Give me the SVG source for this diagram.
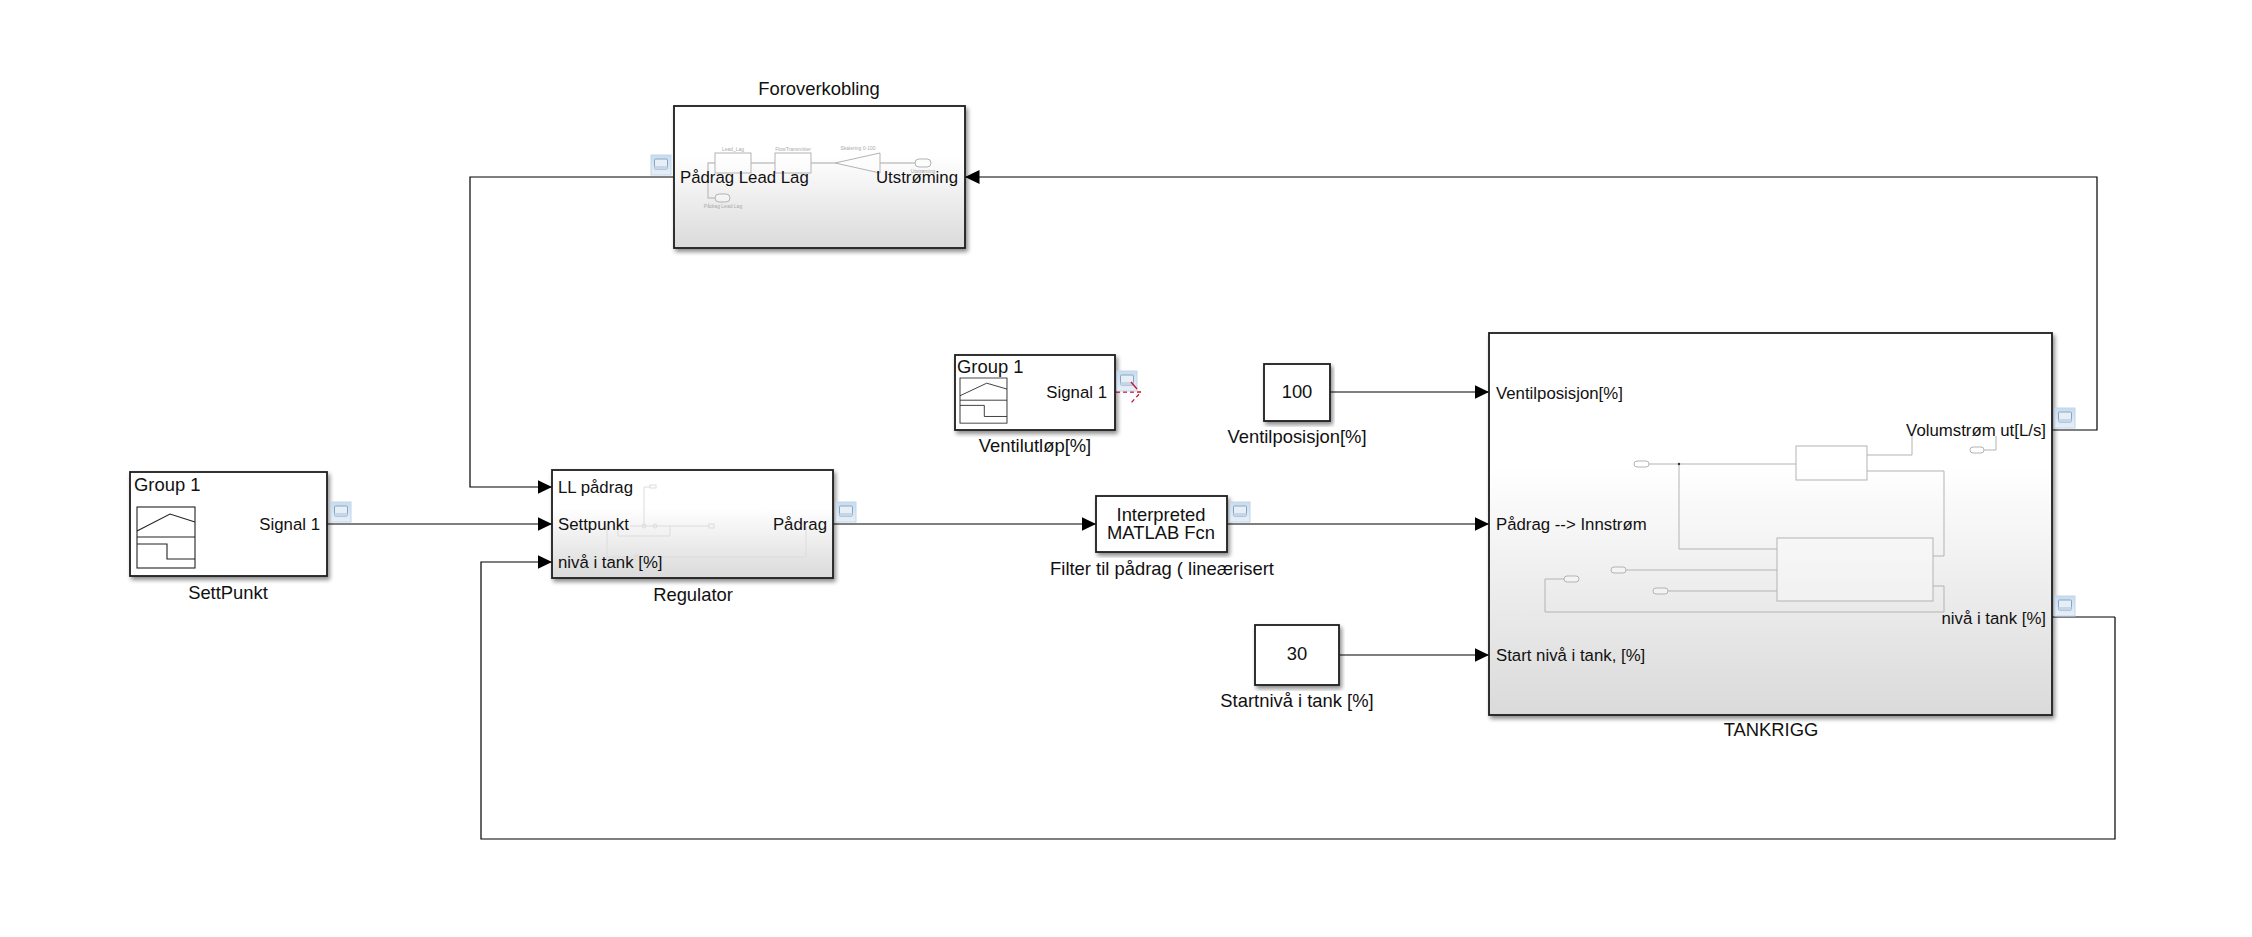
<svg xmlns="http://www.w3.org/2000/svg" xmlns:xlink="http://www.w3.org/1999/xlink" width="2252" height="937" viewBox="0 0 2252 937">
<style>
text{font-family:"Liberation Sans",Arial,sans-serif;font-size:16.8px;fill:#111}
.l{font-size:18.4px}
.m{text-anchor:middle}.e{text-anchor:end}
.blk{stroke:#1c1c1c;stroke-width:1.8;filter:url(#sh)}
.w{fill:#fff}.g{fill:url(#grad)}
.c{fill:none;stroke:#000;stroke-width:1.2}
.a{marker-end:url(#arr)}
.ic{fill:none;stroke:#222;stroke-width:1.1}
.in{fill:none;stroke:#b3b3b3;stroke-width:1}
.in2{fill:none;stroke:#dcdcdc;stroke-width:1}
.inw{fill:#fff;fill-opacity:.3;stroke:#b3b3b3;stroke-width:1}
.in3{fill:none;stroke:#c4c4c4;stroke-width:1.4}
.t{font-size:5px;fill:#aaa}
</style>
<defs>
<linearGradient id="grad" x1="0" y1="0" x2="0" y2="1"><stop offset="0.35" stop-color="#fff"/><stop offset="1" stop-color="#dadada"/></linearGradient>
<linearGradient id="lg" x1="0" y1="0" x2="0" y2="1"><stop offset="0" stop-color="#c6dcf0"/><stop offset="1" stop-color="#e8f0f8"/></linearGradient>
<filter id="sh" x="-5%" y="-5%" width="112%" height="115%"><feDropShadow dx="2" dy="3" stdDeviation="2" flood-color="#000" flood-opacity=".45"/></filter>
<marker id="arr" markerUnits="userSpaceOnUse" markerWidth="15" markerHeight="15" refX="14.5" refY="7.5" orient="auto"><path d="M0,0.5L14.5,7.5L0,14.5Z" fill="#000"/></marker>
<g id="log"><rect x="0" y="0" width="20" height="20" fill="url(#lg)" stroke="#c3d5e6"/><rect x="3.5" y="4" width="13" height="10" rx="1" fill="#e6eef6" stroke="#8aa4bf"/><rect x="3.5" y="11" width="13" height="3" fill="#c6d6e6"/></g>
<g id="sig" class="ic"><rect class="ic" x="0" y="0" width="58" height="61"/><path class="ic" d="M0,24L33,7L58,15M0,30H58M0,37H30V52H58"/></g>
</defs>
<rect width="2252" height="937" fill="#fff"/>
<g id="connectors">
<path class="c a" d="M674,177H470V487H552"/>
<path class="c a" d="M327,524H552"/>
<path class="c a" d="M2115,617V839H481V562H552" />
<path class="c" d="M2052,617H2115"/>
<path class="c a" d="M833,524H1096"/>
<path class="c a" d="M1227,524H1489"/>
<path class="c a" d="M1330,392H1489"/>
<path class="c a" d="M1339,655H1489"/>
<path class="c a" d="M2052,430H2097V177H965"/>
<path fill="none" stroke="#c8102e" stroke-width="1.3" stroke-dasharray="4 3" d="M1116,392H1141L1131,403"/>
</g>
<g id="foroverkobling">
<rect class="blk g" x="674" y="106" width="291" height="142"/>
<path class="in3" d="M715,163H708V198H715M751,163H775M811,163H835M880,163H915"/>
<rect class="inw" x="715" y="153" width="36" height="20"/>
<rect class="inw" x="775" y="153" width="36" height="20"/>
<path class="inw" d="M835,163L880,153V173Z"/>
<rect class="inw" x="715" y="194" width="15" height="8" rx="4"/>
<rect class="inw" x="915" y="159" width="16" height="8" rx="4"/>
<text class="t m" x="733" y="151">Lead_Lag</text>
<text class="t m" x="793" y="151">FlowTransmitter</text>
<text class="t m" x="858" y="150">Skalering 0-100</text>
<text class="t m" x="923" y="173">Utstrøming</text>
<text class="t m" x="723" y="208">Pådrag Lead Lag</text>
<text x="680" y="183">Pådrag Lead Lag</text>
<text class="e" x="958" y="183">Utstrøming</text>
<text class="m l" x="819" y="95">Foroverkobling</text>
<use xlink:href="#log" href="#log" x="651" y="155"/>
</g>
<g id="settpunkt">
<rect class="blk w" x="130" y="472" width="197" height="104"/>
<use xlink:href="#sig" href="#sig" x="137" y="507"/>
<text class="l" x="134" y="491">Group 1</text>
<text class="e" x="320" y="530">Signal 1</text>
<text class="m l" x="228" y="599">SettPunkt</text>
<use xlink:href="#log" href="#log" x="331" y="502"/>
</g>
<g id="regulator">
<rect class="blk g" x="552" y="470" width="281" height="108"/>
<path class="in2" d="M650,487H644V526M630,526H709M618,526V536H670V526M607,524V557H806V527"/>
<rect class="in2" x="650" y="485" width="6" height="3"/>
<rect class="in2" x="709" y="524" width="5" height="4"/>
<circle class="in2" cx="644" cy="526" r="2"/>
<circle class="in2" cx="655" cy="526" r="2"/>
<rect class="in2" x="635" y="555" width="5" height="5"/>
<text x="558" y="493">LL pådrag</text>
<text x="558" y="530">Settpunkt</text>
<text x="558" y="568">nivå i tank [%]</text>
<text class="e" x="827" y="530">Pådrag</text>
<text class="m l" x="693" y="601">Regulator</text>
<use xlink:href="#log" href="#log" x="836" y="502"/>
</g>
<g id="ventilutlop">
<rect class="blk w" x="955" y="355" width="160" height="75"/>
<g transform="translate(960,378) scale(0.81,0.74)"><rect class="ic" width="58" height="61"/><path class="ic" d="M0,24L33,7L58,15M0,30H58M0,37H30V52H58"/></g>
<text class="l" x="957" y="373">Group 1</text>
<text class="e" x="1107" y="398">Signal 1</text>
<text class="m l" x="1035" y="452">Ventilutløp[%]</text>
<use xlink:href="#log" href="#log" x="1117" y="371"/>
<path fill="none" stroke="#c8102e" stroke-width="1.3" d="M1131,382L1137,389"/>
</g>
<g id="filter">
<rect class="blk w" x="1096" y="496" width="131" height="56"/>
<text class="m l" x="1161" y="521">Interpreted</text>
<text class="m l" x="1161" y="539">MATLAB Fcn</text>
<text class="m l" x="1162" y="575">Filter til pådrag ( lineærisert</text>
<use xlink:href="#log" href="#log" x="1230" y="502"/>
</g>
<g id="ventilposisjon">
<rect class="blk w" x="1264" y="364" width="66" height="57"/>
<text class="m l" x="1297" y="398">100</text>
<text class="m l" x="1297" y="443">Ventilposisjon[%]</text>
</g>
<g id="startniva">
<rect class="blk w" x="1255" y="625" width="84" height="60"/>
<text class="m l" x="1297" y="660">30</text>
<text class="m l" x="1297" y="707">Startnivå i tank [%]</text>
</g>
<g id="tankrigg">
<rect class="blk g" x="1489" y="333" width="563" height="382"/>
<path class="in" d="M1649,464H1796M1679,464V549H1777M1867,455H1912V436M1867,471H1944V556H1933M1984,450H1996V436M1933,586H1944V612H1545V579H1564M1626,570H1777M1668,591H1777"/>
<circle cx="1679" cy="464" r="1.2" fill="#333"/>
<rect class="inw" x="1796" y="446" width="71" height="34"/>
<rect class="inw" x="1777" y="538" width="156" height="63"/>
<rect class="inw" x="1634" y="461" width="15" height="6" rx="3"/>
<rect class="inw" x="1970" y="447" width="14" height="6" rx="3"/>
<rect class="inw" x="1564" y="576" width="15" height="6" rx="3"/>
<rect class="inw" x="1611" y="567" width="15" height="6" rx="3"/>
<rect class="inw" x="1653" y="588" width="15" height="6" rx="3"/>
<text x="1496" y="399">Ventilposisjon[%]</text>
<text x="1496" y="530">Pådrag --&gt; Innstrøm</text>
<text x="1496" y="661">Start nivå i tank, [%]</text>
<text class="e" x="2046" y="436">Volumstrøm ut[L/s]</text>
<text class="e" x="2046" y="624">nivå i tank [%]</text>
<text class="m l" x="1771" y="736">TANKRIGG</text>
<use xlink:href="#log" href="#log" x="2055" y="408"/>
<use xlink:href="#log" href="#log" x="2055" y="596"/>
</g>
</svg>
